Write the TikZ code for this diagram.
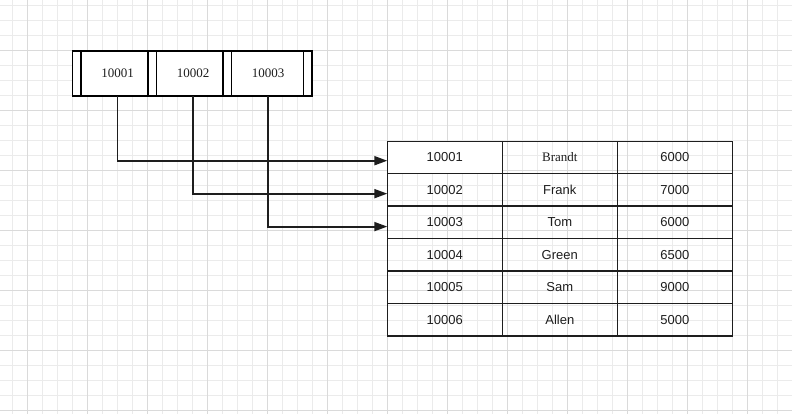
\documentclass[tikz,border=0pt]{standalone}
\usepackage{fontspec}
\setmainfont{Liberation Serif}
\setsansfont{Liberation Sans}
\usetikzlibrary{calc}
\usetikzlibrary{positioning}
\usetikzlibrary{arrows.meta}
\definecolor{gridminor}{RGB}{235,235,235}
\definecolor{gridmajor}{RGB}{218,218,218}
\definecolor{ink}{RGB}{30,30,30}

\begin{document}
\begin{tikzpicture}[x=1pt, y=-1pt, >={Triangle[length=13pt,width=9pt]},
cell/.style={draw=ink, line width=1.4pt, minimum width=115pt, minimum height=32.45pt, inner sep=0pt, outer sep=0pt, font=\sffamily\fontsize{13}{15}\selectfont, text=ink},
key/.style={inner sep=0pt, font=\fontsize{13}{15}\selectfont, text=ink},
link/.style={->, draw=ink, line width=1.9pt}]

\useasboundingbox (0,0) rectangle (792,414);
\fill[white] (0,0) rectangle (792,414);

% grid
\foreach \x in {12.7,27.7,...,792} \draw[gridminor, line width=0.8pt] (\x,0) -- (\x,414);
\foreach \y in {5,20,...,414} \draw[gridminor, line width=0.8pt] (0,\y) -- (792,\y);
\foreach \x in {27.7,87.7,...,792} \draw[gridmajor, line width=0.8pt] (\x,0) -- (\x,414);
\foreach \y in {50,110,...,414} \draw[gridmajor, line width=0.8pt] (0,\y) -- (792,\y);

% index array
\node [draw=black, line width=1.6pt, fill=white, minimum width=239.7pt, minimum height=44.7pt, inner sep=0pt, outer sep=0pt] (arr) at (192.15,73.65) {};
\foreach \x in {81,147.7,156.3,223,231.3,303.3}
  \draw [black, line width=1.6pt] (\x,51.3) -- (\x,96);
\node [key] (l1) at (117.5,73) {10001};
\node [key] (l2) at (193,73) {10002};
\node [key] (l3) at (268,73) {10003};

% table
\node [cell, fill=white] (r1a) at (444.8,157.5) {10001};
\node [cell, right = 0pt of r1a] (r1b) {\rmfamily Brandt};
\node [cell, right = 0pt of r1b] (r1c) {6000};
\node [cell, below = 0pt of r1a] (r2a) {10002};
\node [cell, right = 0pt of r2a] (r2b) {Frank};
\node [cell, right = 0pt of r2b] (r2c) {7000};
\node [cell, below = 0pt of r2a] (r3a) {10003};
\node [cell, right = 0pt of r3a] (r3b) {Tom};
\node [cell, right = 0pt of r3b] (r3c) {6000};
\node [cell, below = 0pt of r3a] (r4a) {10004};
\node [cell, right = 0pt of r4a] (r4b) {Green};
\node [cell, right = 0pt of r4b] (r4c) {6500};
\node [cell, below = 0pt of r4a] (r5a) {10005};
\node [cell, right = 0pt of r5a] (r5b) {Sam};
\node [cell, right = 0pt of r5b] (r5c) {9000};
\node [cell, below = 0pt of r5a] (r6a) {10006};
\node [cell, right = 0pt of r6a] (r6b) {Allen};
\node [cell, right = 0pt of r6b] (r6c) {5000};

% pointers
\draw [link] (l1 |- arr.south) |- ([yshift=-3.2pt]r1a.west);
\draw [link] (l2 |- arr.south) |- ([yshift=-3.7pt]r2a.west);
\draw [link] (l3 |- arr.south) |- ([yshift=-4.2pt]r3a.west);
\end{tikzpicture}
\end{document}
